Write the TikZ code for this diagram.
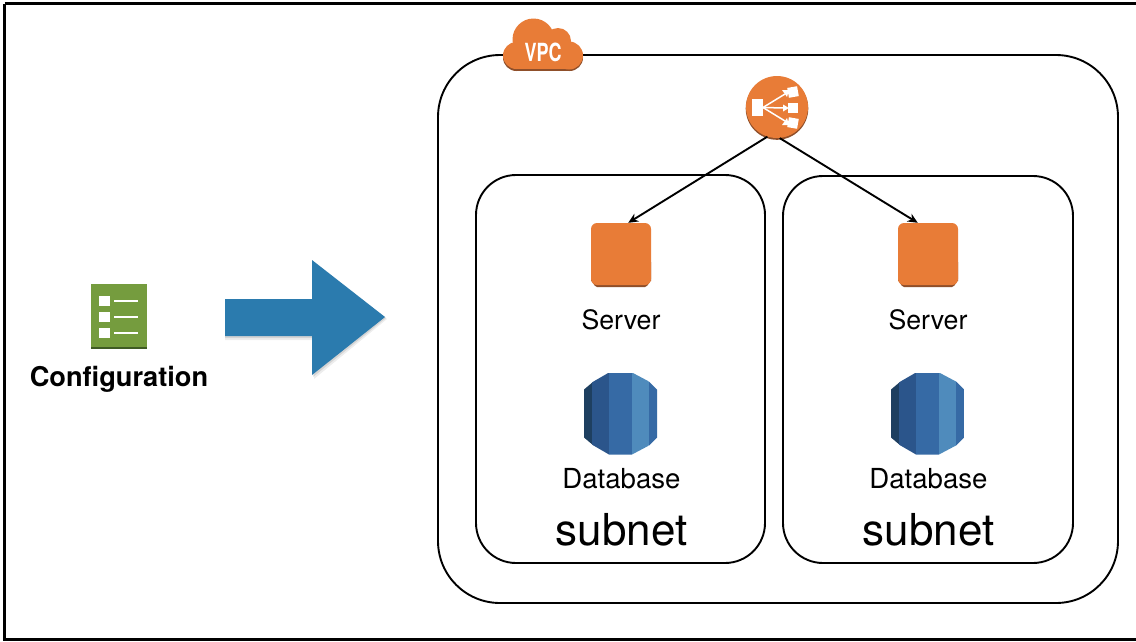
\documentclass[tikz,border=0pt]{standalone}
\usepackage{fontspec}
\setmainfont{TeX Gyre Heros}
\usetikzlibrary{arrows.meta,calc,shapes.geometric}
\definecolor{awsor}{HTML}{E87C37}
\definecolor{awsord}{HTML}{8F4F2A}
\definecolor{awsgr}{HTML}{759C3E}
\definecolor{awsgrd}{HTML}{3F5B24}
\definecolor{arrowbl}{HTML}{2B7BAE}
\tikzset{
  x=1pt,y=-1pt,
  container/.style={draw=black,line width=1.9pt,fill=none},
  server/.style={rectangle,rounded corners=6pt,fill=awsor,minimum width=60pt,minimum height=62pt,inner sep=0pt},
  lab/.style={inner sep=0pt,anchor=base},
  conn/.style={draw=black,line width=1.9pt,-{Stealth[length=10pt,width=9pt]}},
}
\newcommand{\dbicon}[2]{%
  \begin{scope}[shift={(#1,#2)}]
    \begin{scope}
      \clip (-36.5,-24) -- (-27,-32) -- (-11.5,-41) -- (11.5,-41) -- (28.5,-32) -- (36.5,-24) -- (36.5,24) -- (28.5,32) -- (11.5,41) -- (-11.5,41) -- (-27,32) -- (-36.5,24) -- cycle;
      \fill[color={rgb,255:red,30;green,63;blue,96}] (-37,-41) rectangle (-28,41);
      \fill[color={rgb,255:red,43;green,85;blue,139}] (-28.2,-41) rectangle (-11.5,41);
      \fill[color={rgb,255:red,54;green,106;blue,165}] (-11.7,-41) rectangle (11.5,41);
      \fill[color={rgb,255:red,79;green,139;blue,188}] (11.3,-41) rectangle (28.5,41);
      \fill[color={rgb,255:red,54;green,106;blue,165}] (28.3,-41) rectangle (37,41);
    \end{scope}
  \end{scope}}
\newcommand{\srvbase}[1]{%
  \fill[awsord] (#1,262) -- (#1+60,262) -- (#1+60,281) to[out=90,in=0] (#1+54,287) -- (#1+6,287) to[out=180,in=90] (#1,281) -- cycle;}
\begin{document}
\begin{tikzpicture}
\useasboundingbox (0,0) rectangle (1136,641);
\fill[white] (0,0) rectangle (1136,641);
% frame
\draw[line width=2.6pt] (4.5,3.5) -- (1136,3.5);
\draw[line width=2.6pt] (4.5,3.5) -- (4.5,639.5) -- (1136,639.5);
% containers
\draw[container,rounded corners=62pt] (438,55) rectangle (1118,603);
\draw[container,rounded corners=40pt] (476,175) rectangle (765,563);
\draw[container,rounded corners=40pt] (783,176) rectangle (1073,563);
% VPC cloud
\fill[white] (503,40) rectangle (583,71);
\fill[awsord] (516,58) rectangle (570,71);
\fill[awsord] (516.5,57.5) circle (13.5);
\fill[awsord] (569.5,57.5) circle (13.5);
\fill[awsor] (516.5,55.5) circle (13.5);
\fill[awsor] (569,55.5) circle (14);
\fill[awsor] (533.5,39.5) circle (21);
\fill[awsor] (558,41) circle (13);
\fill[awsor] (516.5,45) rectangle (569,69.2);
\node[inner sep=0pt,text=white,font=\fontsize{25}{25}\selectfont\bfseries,xscale=.72] (vpc) at (543,52) {VPC};
% load balancer
\fill[awsord] (777,108.5) circle (31.3);
\node[circle,fill=awsor,minimum size=62pt,inner sep=0pt] (lb) at (777,107) {};
\fill[white] (752,99) rectangle (763,116);
\fill[white] (788,103) rectangle (798,113);
\fill[white,rotate around={10:(793,92)}] (788,87) rectangle (798,97);
\fill[white,rotate around={-10:(793,123)}] (788,118) rectangle (798,128);
\draw[white,line width=1.5pt] (763,107.5) -- (785,94);
\draw[white,line width=1.5pt] (763,107.5) -- (785,108);
\draw[white,line width=1.5pt] (763,107.5) -- (785,121);
\fill[white] (782,90) -- (789,90) -- (787,97) -- cycle;
\fill[white] (783,104.5) -- (789,108) -- (783,111.5) -- cycle;
\fill[white] (782,125) -- (789,125) -- (787,118) -- cycle;
% servers
\srvbase{591}
\srvbase{898}
\node[server] (srv1) at (621,254) {};
\node[server] (srv2) at (928,254) {};
\coordinate (hit1) at ($(srv1.north west)!.62!(srv1.north east)$);
\coordinate (hit2) at ($(srv2.north west)!.33!(srv2.north east)$);
\draw[conn] (lb.252) -- (hit1);
\draw[conn] (lb.275) -- (hit2);
\node[lab,font=\fontsize{26.7}{30}\selectfont] (srvl1) at (621,329) {Server};
\node[lab,font=\fontsize{26.7}{30}\selectfont] (srvl2) at (928,329) {Server};
% databases
\dbicon{620.5}{413.5}
\dbicon{927.5}{413.5}
\node[lab,font=\fontsize{27.6}{30}\selectfont] (dbl1) at (621.5,488) {Database};
\node[lab,font=\fontsize{27.6}{30}\selectfont] (dbl2) at (928.5,488) {Database};
\node[lab,font=\fontsize{44}{48}\selectfont] (sub1) at (621.5,545) {subnet};
\node[lab,font=\fontsize{44}{48}\selectfont] (sub2) at (928.5,545) {subnet};
% configuration icon
\fill[awsgrd] (91,346) rectangle (147,349);
\fill[awsgr] (91,284) rectangle (147,347);
\foreach \yy in {301,317,333}{
  \fill[white] (99,\yy-5.2) rectangle (110,\yy+5.2);
  \fill[white] (114,\yy-1.2) rectangle (138,\yy+1.2);
}
\node[lab,font=\fontsize{27.2}{30}\selectfont\bfseries] (cfg) at (119,386.5) {Configuration};
% block arrow
\fill[black,opacity=.07] (225,303) -- (315,303) -- (315,264) -- (387,319) -- (314,379) -- (314,340) -- (225,340) -- cycle;
\fill[black,opacity=.10] (225,301) -- (313,301) -- (313,262) -- (386,318) -- (313,377) -- (313,338) -- (225,338) -- cycle;
\fill[arrowbl] (225,299) -- (312,299) -- (312,260) -- (385,317) -- (312,375) -- (312,336) -- (225,336) -- cycle;
\end{tikzpicture}
\end{document}
